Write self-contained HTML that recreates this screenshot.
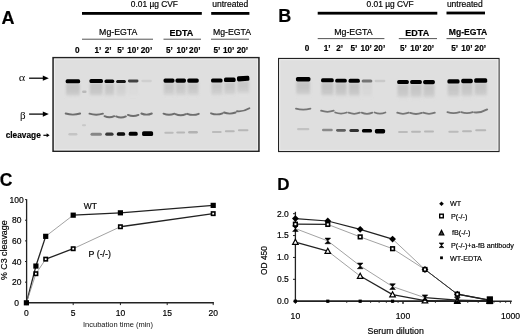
<!DOCTYPE html>
<html><head><meta charset="utf-8"><style>
html,body{margin:0;padding:0;background:#fff;width:520px;height:334px;overflow:hidden}
svg{display:block;font-family:"Liberation Sans",sans-serif;will-change:transform;filter:blur(0.3px)}
</style></head><body>
<svg width="520" height="334" viewBox="0 0 520 334" font-family="Liberation Sans">
<defs><filter id="bl" x="-20%" y="-20%" width="140%" height="140%"><feGaussianBlur stdDeviation="0.5"/></filter><filter id="bl2" x="-30%" y="-30%" width="160%" height="160%"><feGaussianBlur stdDeviation="1.2"/></filter><linearGradient id="sm" x1="0" y1="0" x2="0" y2="1"><stop offset="0" stop-color="#c8c8c8"/><stop offset="0.25" stop-color="#c2c2c2"/><stop offset="0.7" stop-color="#cacaca"/><stop offset="1" stop-color="#dfdfdf" stop-opacity="0"/></linearGradient></defs>
<text x="1.6" y="23.8" font-size="18" font-weight="bold" text-anchor="start" fill="#000" stroke="#000" stroke-width="0.18" >A</text>
<text x="130.8" y="6.7" font-size="8.4" font-weight="normal" text-anchor="start" fill="#000" stroke="#000" stroke-width="0.18" >0.01 µg CVF</text>
<text x="212.3" y="6.9" font-size="8.5" font-weight="normal" text-anchor="start" fill="#000" stroke="#000" stroke-width="0.18" >untreated</text>
<rect x="82" y="12" width="119.8" height="2.8" fill="#000" />
<rect x="211.2" y="12" width="38.2" height="2.8" fill="#000" />
<text x="99.1" y="34.6" font-size="8.75" font-weight="normal" text-anchor="start" fill="#000" stroke="#000" stroke-width="0.18" >Mg-EGTA</text>
<text x="169.4" y="35.9" font-size="9" font-weight="bold" text-anchor="start" fill="#000" stroke="#000" stroke-width="0.18" >EDTA</text>
<text x="213" y="34.6" font-size="8.7" font-weight="normal" text-anchor="start" fill="#000" stroke="#000" stroke-width="0.18" >Mg-EGTA</text>
<rect x="82" y="38.7" width="71" height="1" fill="#555" />
<rect x="163.5" y="38.7" width="37.5" height="1" fill="#555" />
<rect x="211" y="38.7" width="38" height="1" fill="#555" />
<text x="75" y="52.8" font-size="8.2" font-weight="bold" text-anchor="start" fill="#000" stroke="#000" stroke-width="0.18" >0</text>
<text x="94.5" y="52.8" font-size="8.2" font-weight="bold" text-anchor="start" fill="#000" stroke="#000" stroke-width="0.18" >1&#8217;</text>
<text x="104.8" y="52.8" font-size="8.2" font-weight="bold" text-anchor="start" fill="#000" stroke="#000" stroke-width="0.18" >2&#8217;</text>
<text x="117.3" y="52.8" font-size="8.2" font-weight="bold" text-anchor="start" fill="#000" stroke="#000" stroke-width="0.18" >5&#8217;</text>
<text x="127.3" y="52.8" font-size="8.2" font-weight="bold" text-anchor="start" fill="#000" stroke="#000" stroke-width="0.18" >10&#8217;</text>
<text x="140.8" y="52.8" font-size="8.2" font-weight="bold" text-anchor="start" fill="#000" stroke="#000" stroke-width="0.18" >20&#8217;</text>
<text x="165.9" y="52.8" font-size="8.2" font-weight="bold" text-anchor="start" fill="#000" stroke="#000" stroke-width="0.18" >5&#8217;</text>
<text x="176.4" y="52.8" font-size="8.2" font-weight="bold" text-anchor="start" fill="#000" stroke="#000" stroke-width="0.18" >10&#8217;</text>
<text x="189.1" y="52.8" font-size="8.2" font-weight="bold" text-anchor="start" fill="#000" stroke="#000" stroke-width="0.18" >20&#8217;</text>
<text x="213.5" y="52.8" font-size="8.2" font-weight="bold" text-anchor="start" fill="#000" stroke="#000" stroke-width="0.18" >5&#8217;</text>
<text x="223" y="52.8" font-size="8.2" font-weight="bold" text-anchor="start" fill="#000" stroke="#000" stroke-width="0.18" >10&#8217;</text>
<text x="236.7" y="52.8" font-size="8.2" font-weight="bold" text-anchor="start" fill="#000" stroke="#000" stroke-width="0.18" >20&#8217;</text>
<text x="278.3" y="21.8" font-size="18" font-weight="bold" text-anchor="start" fill="#000" stroke="#000" stroke-width="0.18" >B</text>
<text x="366.5" y="6.7" font-size="8.4" font-weight="normal" text-anchor="start" fill="#000" stroke="#000" stroke-width="0.18" >0.01 µg CVF</text>
<text x="446.9" y="7.2" font-size="8.5" font-weight="normal" text-anchor="start" fill="#000" stroke="#000" stroke-width="0.18" >untreated</text>
<rect x="317.7" y="11.8" width="119.6" height="2.8" fill="#000" />
<rect x="446.5" y="11.6" width="38.5" height="2.8" fill="#000" />
<text x="334.2" y="35.3" font-size="8.8" font-weight="normal" text-anchor="start" fill="#000" stroke="#000" stroke-width="0.18" >Mg-EGTA</text>
<text x="405.3" y="35.9" font-size="9" font-weight="bold" text-anchor="start" fill="#000" stroke="#000" stroke-width="0.18" >EDTA</text>
<text x="448.8" y="35.3" font-size="8.6" font-weight="bold" text-anchor="start" fill="#000" stroke="#000" stroke-width="0.18" >Mg-EGTA</text>
<rect x="317.7" y="38.1" width="66.69999999999999" height="1" fill="#555" />
<rect x="398.8" y="38.1" width="38.19999999999999" height="1" fill="#555" />
<rect x="446.5" y="38.1" width="38.5" height="1" fill="#555" />
<text x="304.8" y="51.1" font-size="8.2" font-weight="bold" text-anchor="start" fill="#000" stroke="#000" stroke-width="0.18" >0</text>
<text x="323.8" y="51.1" font-size="8.2" font-weight="bold" text-anchor="start" fill="#000" stroke="#000" stroke-width="0.18" >1&#8217;</text>
<text x="336.3" y="51.1" font-size="8.2" font-weight="bold" text-anchor="start" fill="#000" stroke="#000" stroke-width="0.18" >2&#8217;</text>
<text x="350.4" y="51.1" font-size="8.2" font-weight="bold" text-anchor="start" fill="#000" stroke="#000" stroke-width="0.18" >5&#8217;</text>
<text x="360.4" y="51.1" font-size="8.2" font-weight="bold" text-anchor="start" fill="#000" stroke="#000" stroke-width="0.18" >10&#8217;</text>
<text x="373.8" y="51.1" font-size="8.2" font-weight="bold" text-anchor="start" fill="#000" stroke="#000" stroke-width="0.18" >20&#8217;</text>
<text x="400" y="51.1" font-size="8.2" font-weight="bold" text-anchor="start" fill="#000" stroke="#000" stroke-width="0.18" >5&#8217;</text>
<text x="410.2" y="51.1" font-size="8.2" font-weight="bold" text-anchor="start" fill="#000" stroke="#000" stroke-width="0.18" >10&#8217;</text>
<text x="422.7" y="51.1" font-size="8.2" font-weight="bold" text-anchor="start" fill="#000" stroke="#000" stroke-width="0.18" >20&#8217;</text>
<text x="451.2" y="51.1" font-size="8.2" font-weight="bold" text-anchor="start" fill="#000" stroke="#000" stroke-width="0.18" >5&#8217;</text>
<text x="461.2" y="51.1" font-size="8.2" font-weight="bold" text-anchor="start" fill="#000" stroke="#000" stroke-width="0.18" >10&#8217;</text>
<text x="474.6" y="51.1" font-size="8.2" font-weight="bold" text-anchor="start" fill="#000" stroke="#000" stroke-width="0.18" >20&#8217;</text>
<rect x="53.1" y="57.7" width="205.79999999999998" height="93.49999999999999" fill="#dfdfdf" stroke="#222" stroke-width="1.6"/>
<rect x="54.40" y="59.00" width="203.20" height="90.90" fill="none" stroke="#eeeeee" stroke-width="1"/>
<g filter="url(#bl)">
<rect x="66.01" y="83.30" width="13.77" height="15.00" fill="url(#sm)" opacity="1" filter="url(#bl2)"/>
<rect x="89.79" y="83.00" width="12.82" height="15.00" fill="url(#sm)" opacity="1" filter="url(#bl2)"/>
<rect x="104.75" y="83.30" width="9.31" height="15.00" fill="url(#sm)" opacity="0.9" filter="url(#bl2)"/>
<rect x="116.34" y="83.50" width="9.31" height="15.00" fill="url(#sm)" opacity="0.5" filter="url(#bl2)"/>
<rect x="128.16" y="83.00" width="10.07" height="15.00" fill="url(#sm)" opacity="0.15" filter="url(#bl2)"/>
<rect x="163.78" y="82.60" width="10.45" height="15.00" fill="url(#sm)" opacity="0.8" filter="url(#bl2)"/>
<rect x="175.71" y="82.60" width="9.97" height="15.00" fill="url(#sm)" opacity="0.8" filter="url(#bl2)"/>
<rect x="187.54" y="82.60" width="10.92" height="15.00" fill="url(#sm)" opacity="0.8" filter="url(#bl2)"/>
<rect x="211.34" y="82.50" width="10.92" height="15.00" fill="url(#sm)" opacity="0.8" filter="url(#bl2)"/>
<rect x="224.29" y="81.80" width="11.02" height="15.00" fill="url(#sm)" opacity="0.8" filter="url(#bl2)"/>
<rect x="237.31" y="80.60" width="11.78" height="15.00" fill="url(#sm)" opacity="0.8" filter="url(#bl2)"/>
<rect x="65.65" y="79.35" width="14.50" height="3.90" rx="1.6" fill="#000000" opacity="1"/>
<path d="M65.65,113.50 Q72.90,115.70 80.15,113.50" stroke="#6e6e6e" stroke-width="1.9" fill="none" stroke-linecap="round"/>
<rect x="68.40" y="133.00" width="9.00" height="2.40" rx="1.2" fill="#c4c4c4" opacity="1"/>
<rect x="89.45" y="78.95" width="13.50" height="4.10" rx="1.6" fill="#000000" opacity="1"/>
<path d="M89.45,113.70 Q96.20,115.90 102.95,113.70" stroke="#6e6e6e" stroke-width="1.9" fill="none" stroke-linecap="round"/>
<rect x="90.46" y="132.70" width="11.47" height="3.00" rx="1.5" fill="#868686" opacity="1"/>
<rect x="104.50" y="79.50" width="9.80" height="3.60" rx="1.6" fill="#040404" opacity="1"/>
<path d="M104.50,116.20 Q109.40,118.40 114.30,116.20" stroke="#6e6e6e" stroke-width="1.9" fill="none" stroke-linecap="round"/>
<rect x="105.23" y="132.60" width="8.33" height="3.20" rx="1.6" fill="#383838" opacity="1"/>
<rect x="116.10" y="80.00" width="9.80" height="3.00" rx="1.5" fill="#121212" opacity="1"/>
<path d="M116.10,116.40 Q121.00,118.60 125.90,116.40" stroke="#6e6e6e" stroke-width="1.9" fill="none" stroke-linecap="round"/>
<rect x="116.83" y="132.20" width="8.33" height="3.60" rx="1.6" fill="#090909" opacity="1"/>
<rect x="127.90" y="79.60" width="10.60" height="2.80" rx="1.4" fill="#434343" opacity="1"/>
<path d="M127.90,114.90 Q133.20,117.10 138.50,114.90" stroke="#6e6e6e" stroke-width="1.9" fill="none" stroke-linecap="round"/>
<rect x="128.69" y="131.80" width="9.01" height="4.00" rx="1.6" fill="#000000" opacity="1"/>
<rect x="141.35" y="79.85" width="10.50" height="2.30" rx="1.15" fill="#cfcfcf" opacity="1"/>
<path d="M141.35,113.50 Q146.60,115.70 151.85,113.50" stroke="#6e6e6e" stroke-width="1.9" fill="none" stroke-linecap="round"/>
<rect x="142.10" y="131.20" width="11.00" height="4.80" rx="1.6" fill="#000000" opacity="1"/>
<rect x="163.50" y="78.55" width="11.00" height="4.10" rx="1.6" fill="#000000" opacity="1"/>
<path d="M163.50,113.70 Q169.00,115.90 174.50,113.70" stroke="#6e6e6e" stroke-width="1.9" fill="none" stroke-linecap="round"/>
<rect x="164.32" y="131.80" width="9.35" height="2.00" rx="1.0" fill="#bbbbbb" opacity="1"/>
<rect x="175.45" y="78.55" width="10.50" height="4.10" rx="1.6" fill="#000000" opacity="1"/>
<path d="M175.45,114.20 Q180.70,116.40 185.95,114.20" stroke="#6e6e6e" stroke-width="1.9" fill="none" stroke-linecap="round"/>
<rect x="176.24" y="131.40" width="8.92" height="2.20" rx="1.1" fill="#b7b7b7" opacity="1"/>
<rect x="187.25" y="78.55" width="11.50" height="4.10" rx="1.6" fill="#000000" opacity="1"/>
<path d="M187.25,113.80 Q193.00,116.00 198.75,113.80" stroke="#6e6e6e" stroke-width="1.9" fill="none" stroke-linecap="round"/>
<rect x="188.11" y="131.10" width="9.78" height="2.40" rx="1.2" fill="#b2b2b2" opacity="1"/>
<rect x="211.05" y="78.40" width="11.50" height="4.20" rx="1.6" fill="#000000" opacity="1"/>
<path d="M211.05,113.30 Q216.80,115.50 222.55,113.30" stroke="#6e6e6e" stroke-width="1.9" fill="none" stroke-linecap="round"/>
<rect x="211.91" y="131.00" width="9.78" height="2.00" rx="1.0" fill="#bbbbbb" opacity="1"/>
<rect x="224.00" y="77.60" width="11.60" height="4.40" rx="1.6" fill="#000000" opacity="1"/>
<path d="M224.00,112.50 Q229.80,114.70 235.60,112.50" stroke="#6e6e6e" stroke-width="1.9" fill="none" stroke-linecap="round"/>
<rect x="224.87" y="130.20" width="9.86" height="2.00" rx="1.0" fill="#b7b7b7" opacity="1"/>
<rect x="237.00" y="76.00" width="12.40" height="5.20" rx="1.6" fill="#000000" opacity="1" transform="rotate(-4 243.2 78.6)"/>
<path d="M237.00,111.30 Q243.20,112.00 249.40,108.30" stroke="#6e6e6e" stroke-width="1.9" fill="none" stroke-linecap="round"/>
<rect x="237.93" y="129.30" width="10.54" height="2.00" rx="1.0" fill="#b7b7b7" opacity="1"/>
<rect x="82.05" y="90.55" width="4.50" height="2.50" rx="1.25" fill="#b9b9b9" opacity="1"/>
<rect x="82.00" y="124.30" width="4.00" height="2.00" rx="1.0" fill="#c8c8c8" opacity="1"/>
</g>
<rect x="278.6" y="58.5" width="220.39999999999998" height="93.0" fill="#dfdfdf" stroke="#222" stroke-width="1.2"/>
<rect x="279.70" y="59.60" width="218.20" height="90.80" fill="none" stroke="#eeeeee" stroke-width="1"/>
<g filter="url(#bl)">
<rect x="296.31" y="81.20" width="13.77" height="16.00" fill="url(#sm)" opacity="1" filter="url(#bl2)"/>
<rect x="321.37" y="82.30" width="12.06" height="16.00" fill="url(#sm)" opacity="1" filter="url(#bl2)"/>
<rect x="335.49" y="82.60" width="11.02" height="16.00" fill="url(#sm)" opacity="1" filter="url(#bl2)"/>
<rect x="348.83" y="82.80" width="10.73" height="16.00" fill="url(#sm)" opacity="1" filter="url(#bl2)"/>
<rect x="361.92" y="82.90" width="10.16" height="16.00" fill="url(#sm)" opacity="0.3" filter="url(#bl2)"/>
<rect x="397.49" y="84.00" width="11.02" height="16.00" fill="url(#sm)" opacity="0.9" filter="url(#bl2)"/>
<rect x="410.49" y="84.00" width="11.02" height="16.00" fill="url(#sm)" opacity="0.9" filter="url(#bl2)"/>
<rect x="423.44" y="84.10" width="11.11" height="16.00" fill="url(#sm)" opacity="0.9" filter="url(#bl2)"/>
<rect x="447.70" y="83.40" width="11.59" height="16.00" fill="url(#sm)" opacity="0.9" filter="url(#bl2)"/>
<rect x="461.49" y="83.00" width="11.02" height="16.00" fill="url(#sm)" opacity="0.9" filter="url(#bl2)"/>
<rect x="474.52" y="82.50" width="12.35" height="16.00" fill="url(#sm)" opacity="0.9" filter="url(#bl2)"/>
<rect x="295.95" y="77.00" width="14.50" height="4.40" rx="1.6" fill="#000000" opacity="1"/>
<path d="M295.95,108.60 Q303.20,110.80 310.45,108.60" stroke="#767676" stroke-width="1.8" fill="none" stroke-linecap="round"/>
<rect x="297.04" y="128.10" width="12.32" height="2.20" rx="1.1" fill="#c2c2c2" opacity="1"/>
<rect x="321.05" y="78.35" width="12.70" height="3.90" rx="1.6" fill="#000000" opacity="1"/>
<path d="M321.05,110.70 Q327.40,112.90 333.75,110.70" stroke="#767676" stroke-width="1.8" fill="none" stroke-linecap="round"/>
<rect x="322.00" y="128.70" width="10.79" height="2.60" rx="1.3" fill="#8a8a8a" opacity="1"/>
<rect x="335.20" y="78.65" width="11.60" height="3.90" rx="1.6" fill="#000000" opacity="1"/>
<path d="M335.20,112.50 Q341.00,114.70 346.80,112.50" stroke="#767676" stroke-width="1.8" fill="none" stroke-linecap="round"/>
<rect x="336.07" y="128.90" width="9.86" height="2.80" rx="1.4" fill="#5e5e5e" opacity="1"/>
<rect x="348.55" y="78.85" width="11.30" height="3.90" rx="1.6" fill="#000000" opacity="1"/>
<path d="M348.55,112.70 Q354.20,114.90 359.85,112.70" stroke="#767676" stroke-width="1.8" fill="none" stroke-linecap="round"/>
<rect x="349.40" y="129.00" width="9.61" height="3.00" rx="1.5" fill="#313131" opacity="1"/>
<rect x="361.65" y="79.40" width="10.70" height="3.00" rx="1.5" fill="#747474" opacity="1"/>
<path d="M361.65,112.70 Q367.00,114.90 372.35,112.70" stroke="#767676" stroke-width="1.8" fill="none" stroke-linecap="round"/>
<rect x="361.92" y="129.00" width="10.16" height="3.60" rx="1.6" fill="#040404" opacity="1"/>
<rect x="374.60" y="79.85" width="10.80" height="2.30" rx="1.15" fill="#c9c9c9" opacity="1"/>
<path d="M374.60,112.50 Q380.00,114.70 385.40,112.50" stroke="#767676" stroke-width="1.8" fill="none" stroke-linecap="round"/>
<rect x="374.87" y="129.00" width="10.26" height="4.40" rx="1.6" fill="#000000" opacity="1"/>
<rect x="397.20" y="79.90" width="11.60" height="4.20" rx="1.6" fill="#000000" opacity="1"/>
<path d="M397.20,112.70 Q403.00,114.90 408.80,112.70" stroke="#767676" stroke-width="1.8" fill="none" stroke-linecap="round"/>
<rect x="398.07" y="131.00" width="9.86" height="2.00" rx="1.0" fill="#bbbbbb" opacity="1"/>
<rect x="410.20" y="79.90" width="11.60" height="4.20" rx="1.6" fill="#000000" opacity="1"/>
<path d="M410.20,112.90 Q416.00,115.10 421.80,112.90" stroke="#767676" stroke-width="1.8" fill="none" stroke-linecap="round"/>
<rect x="411.07" y="130.80" width="9.86" height="2.00" rx="1.0" fill="#b7b7b7" opacity="1"/>
<rect x="423.15" y="80.00" width="11.70" height="4.20" rx="1.6" fill="#000000" opacity="1"/>
<path d="M423.15,112.70 Q429.00,114.90 434.85,112.70" stroke="#767676" stroke-width="1.8" fill="none" stroke-linecap="round"/>
<rect x="424.03" y="130.60" width="9.94" height="2.00" rx="1.0" fill="#b7b7b7" opacity="1"/>
<rect x="447.40" y="79.30" width="12.20" height="4.20" rx="1.6" fill="#000000" opacity="1"/>
<path d="M447.40,112.10 Q453.50,114.30 459.60,112.10" stroke="#767676" stroke-width="1.8" fill="none" stroke-linecap="round"/>
<rect x="448.31" y="130.80" width="10.37" height="2.00" rx="1.0" fill="#bbbbbb" opacity="1"/>
<rect x="461.20" y="78.85" width="11.60" height="4.30" rx="1.6" fill="#000000" opacity="1"/>
<path d="M461.20,112.10 Q467.00,114.30 472.80,112.10" stroke="#767676" stroke-width="1.8" fill="none" stroke-linecap="round"/>
<rect x="462.07" y="130.30" width="9.86" height="2.00" rx="1.0" fill="#b7b7b7" opacity="1"/>
<rect x="474.20" y="78.20" width="13.00" height="4.60" rx="1.6" fill="#000000" opacity="1"/>
<path d="M474.20,112.40 Q480.70,113.10 487.20,109.40" stroke="#767676" stroke-width="1.8" fill="none" stroke-linecap="round"/>
<rect x="475.18" y="129.30" width="11.05" height="2.00" rx="1.0" fill="#b7b7b7" opacity="1"/>
</g>
<text transform="translate(18.7,80.6) scale(1.22,0.95)" x="0" y="0" font-family="Liberation Serif" font-size="10.2" fill="#111">α</text>
<text x="20" y="118.6" font-family="Liberation Serif" font-size="11">β</text>
<line x1="29.1" y1="78.2" x2="43.3" y2="78.2" stroke="#000" stroke-width="1.25"/>
<path d="M48.8,78.2 L42.8,75.60000000000001 L42.8,80.8 Z" fill="#000"/>
<line x1="29.1" y1="114.1" x2="43.3" y2="114.1" stroke="#000" stroke-width="1.25"/>
<path d="M48.8,114.1 L42.8,111.5 L42.8,116.69999999999999 Z" fill="#000"/>
<text x="5.7" y="138" font-size="8.3" font-weight="bold" text-anchor="start" fill="#000" stroke="#000" stroke-width="0.18" >cleavage</text>
<line x1="43.4" y1="135.3" x2="47.1" y2="135.3" stroke="#000" stroke-width="1.2"/>
<path d="M49.6,135.3 L46.6,133.3 L46.6,137.3 Z" fill="#000"/>
<text x="-0.2" y="185.5" font-size="17.5" font-weight="bold" text-anchor="start" fill="#000" stroke="#000" stroke-width="0.18" >C</text>
<line x1="26.6" y1="199.2" x2="26.6" y2="302.8" stroke="#222" stroke-width="1.3" />
<line x1="26.6" y1="302.8" x2="213.9" y2="302.8" stroke="#222" stroke-width="1.4" />
<line x1="25" y1="302.8" x2="26.6" y2="302.8" stroke="#222" stroke-width="1" />
<text x="16.7" y="305.8" font-size="8.5" font-weight="normal" text-anchor="middle" fill="#000" stroke="#000" stroke-width="0.18" >0</text>
<line x1="25" y1="282.16" x2="26.6" y2="282.16" stroke="#222" stroke-width="1" />
<text x="16.7" y="285.16" font-size="8.5" font-weight="normal" text-anchor="middle" fill="#000" stroke="#000" stroke-width="0.18" >20</text>
<line x1="25" y1="261.52" x2="26.6" y2="261.52" stroke="#222" stroke-width="1" />
<text x="16.7" y="264.52" font-size="8.5" font-weight="normal" text-anchor="middle" fill="#000" stroke="#000" stroke-width="0.18" >40</text>
<line x1="25" y1="240.88" x2="26.6" y2="240.88" stroke="#222" stroke-width="1" />
<text x="16.7" y="243.88" font-size="8.5" font-weight="normal" text-anchor="middle" fill="#000" stroke="#000" stroke-width="0.18" >60</text>
<line x1="25" y1="220.24" x2="26.6" y2="220.24" stroke="#222" stroke-width="1" />
<text x="16.7" y="223.24" font-size="8.5" font-weight="normal" text-anchor="middle" fill="#000" stroke="#000" stroke-width="0.18" >80</text>
<line x1="25" y1="199.59999999999997" x2="26.6" y2="199.59999999999997" stroke="#222" stroke-width="1" />
<text x="16.7" y="202.59999999999997" font-size="8.5" font-weight="normal" text-anchor="middle" fill="#000" stroke="#000" stroke-width="0.18" >100</text>
<line x1="26.4" y1="302.8" x2="26.4" y2="305.1" stroke="#222" stroke-width="1" />
<text x="26.4" y="316.2" font-size="8.5" font-weight="normal" text-anchor="middle" fill="#000" stroke="#000" stroke-width="0.18" >0</text>
<line x1="73.2" y1="302.8" x2="73.2" y2="305.1" stroke="#222" stroke-width="1" />
<text x="73.2" y="316.2" font-size="8.5" font-weight="normal" text-anchor="middle" fill="#000" stroke="#000" stroke-width="0.18" >5</text>
<line x1="120.4" y1="302.8" x2="120.4" y2="305.1" stroke="#222" stroke-width="1" />
<text x="120.4" y="316.2" font-size="8.5" font-weight="normal" text-anchor="middle" fill="#000" stroke="#000" stroke-width="0.18" >10</text>
<line x1="167.2" y1="302.8" x2="167.2" y2="305.1" stroke="#222" stroke-width="1" />
<text x="167.2" y="316.2" font-size="8.5" font-weight="normal" text-anchor="middle" fill="#000" stroke="#000" stroke-width="0.18" >15</text>
<line x1="213.2" y1="302.8" x2="213.2" y2="305.1" stroke="#222" stroke-width="1" />
<text x="213.2" y="316.2" font-size="8.5" font-weight="normal" text-anchor="middle" fill="#000" stroke="#000" stroke-width="0.18" >20</text>
<text x="118" y="327.4" font-size="7.5" text-anchor="middle" fill="#111">Incubation time (min)</text>
<text transform="translate(7.3,250.2) rotate(-90)" x="0" y="0" font-size="8.9" text-anchor="middle" fill="#000" stroke="#000" stroke-width="0.18">% C3 cleavage</text>
<line x1="26.40" y1="302.80" x2="35.90" y2="266.06" stroke="#222" stroke-width="1.3" />
<line x1="35.90" y1="266.06" x2="45.70" y2="236.34" stroke="#222" stroke-width="1.3" />
<line x1="45.70" y1="236.34" x2="73.20" y2="215.18" stroke="#8a8a8a" stroke-width="0.8" />
<line x1="73.20" y1="215.18" x2="120.40" y2="212.81" stroke="#222" stroke-width="1.3" />
<line x1="120.40" y1="212.81" x2="213.20" y2="205.38" stroke="#222" stroke-width="1.3" />
<line x1="26.40" y1="302.80" x2="35.90" y2="273.70" stroke="#8a8a8a" stroke-width="0.8" />
<line x1="35.90" y1="273.70" x2="45.70" y2="259.15" stroke="#8a8a8a" stroke-width="0.8" />
<line x1="45.70" y1="259.15" x2="73.20" y2="248.72" stroke="#222" stroke-width="1.3" />
<line x1="73.20" y1="248.72" x2="120.40" y2="226.74" stroke="#8a8a8a" stroke-width="0.8" />
<line x1="120.40" y1="226.74" x2="213.20" y2="213.64" stroke="#222" stroke-width="1.3" />
<rect x="23.80" y="300.20" width="5.2" height="5.2" fill="#000" />
<rect x="33.30" y="263.46" width="5.2" height="5.2" fill="#000" />
<rect x="43.10" y="233.74" width="5.2" height="5.2" fill="#000" />
<rect x="70.60" y="212.58" width="5.2" height="5.2" fill="#000" />
<rect x="117.80" y="210.21" width="5.2" height="5.2" fill="#000" />
<rect x="210.60" y="202.78" width="5.2" height="5.2" fill="#000" />
<rect x="34.20" y="272.00" width="3.4" height="3.4" fill="#fff" stroke="#000" stroke-width="1.6"/>
<rect x="44.00" y="257.45" width="3.4" height="3.4" fill="#fff" stroke="#000" stroke-width="1.6"/>
<rect x="71.50" y="247.02" width="3.4" height="3.4" fill="#fff" stroke="#000" stroke-width="1.6"/>
<rect x="118.70" y="225.04" width="3.4" height="3.4" fill="#fff" stroke="#000" stroke-width="1.6"/>
<rect x="211.50" y="211.94" width="3.4" height="3.4" fill="#fff" stroke="#000" stroke-width="1.6"/>
<text x="83.8" y="208.8" font-size="8.5" font-weight="normal" text-anchor="start" fill="#000" stroke="#000" stroke-width="0.18" >WT</text>
<text x="88.6" y="257" font-size="8.8" font-weight="normal" text-anchor="start" fill="#000" stroke="#000" stroke-width="0.18" >P (-/-)</text>
<text x="277.3" y="190.1" font-size="17" font-weight="bold" text-anchor="start" fill="#000" stroke="#000" stroke-width="0.18" >D</text>
<line x1="295.4" y1="211.8" x2="295.4" y2="301.2" stroke="#222" stroke-width="1.3" />
<line x1="295.4" y1="301.2" x2="511.8" y2="301.2" stroke="#222" stroke-width="1.4" />
<line x1="293" y1="301.2" x2="295.4" y2="301.2" stroke="#222" stroke-width="1" />
<text x="288.8" y="304.0" font-size="8.5" font-weight="normal" text-anchor="end" fill="#000" stroke="#000" stroke-width="0.18" >0.0</text>
<line x1="293" y1="279.325" x2="295.4" y2="279.325" stroke="#222" stroke-width="1" />
<text x="288.8" y="282.125" font-size="8.5" font-weight="normal" text-anchor="end" fill="#000" stroke="#000" stroke-width="0.18" >0.5</text>
<line x1="293" y1="257.45" x2="295.4" y2="257.45" stroke="#222" stroke-width="1" />
<text x="288.8" y="260.25" font-size="8.5" font-weight="normal" text-anchor="end" fill="#000" stroke="#000" stroke-width="0.18" >1.0</text>
<line x1="293" y1="235.575" x2="295.4" y2="235.575" stroke="#222" stroke-width="1" />
<text x="288.8" y="238.375" font-size="8.5" font-weight="normal" text-anchor="end" fill="#000" stroke="#000" stroke-width="0.18" >1.5</text>
<line x1="293" y1="213.7" x2="295.4" y2="213.7" stroke="#222" stroke-width="1" />
<text x="288.8" y="216.5" font-size="8.5" font-weight="normal" text-anchor="end" fill="#000" stroke="#000" stroke-width="0.18" >2.0</text>
<line x1="295.40" y1="301.2" x2="295.40" y2="303.8" stroke="#222" stroke-width="1" />
<line x1="327.79" y1="301.2" x2="327.79" y2="302.8" stroke="#222" stroke-width="1" />
<line x1="346.74" y1="301.2" x2="346.74" y2="302.8" stroke="#222" stroke-width="1" />
<line x1="360.18" y1="301.2" x2="360.18" y2="302.8" stroke="#222" stroke-width="1" />
<line x1="370.61" y1="301.2" x2="370.61" y2="302.8" stroke="#222" stroke-width="1" />
<line x1="379.13" y1="301.2" x2="379.13" y2="302.8" stroke="#222" stroke-width="1" />
<line x1="386.33" y1="301.2" x2="386.33" y2="302.8" stroke="#222" stroke-width="1" />
<line x1="392.57" y1="301.2" x2="392.57" y2="302.8" stroke="#222" stroke-width="1" />
<line x1="398.08" y1="301.2" x2="398.08" y2="302.8" stroke="#222" stroke-width="1" />
<line x1="403.00" y1="301.2" x2="403.00" y2="303.8" stroke="#222" stroke-width="1" />
<line x1="403.00" y1="301.2" x2="403.00" y2="303.8" stroke="#222" stroke-width="1" />
<line x1="435.39" y1="301.2" x2="435.39" y2="302.8" stroke="#222" stroke-width="1" />
<line x1="454.34" y1="301.2" x2="454.34" y2="302.8" stroke="#222" stroke-width="1" />
<line x1="467.78" y1="301.2" x2="467.78" y2="302.8" stroke="#222" stroke-width="1" />
<line x1="478.21" y1="301.2" x2="478.21" y2="302.8" stroke="#222" stroke-width="1" />
<line x1="486.73" y1="301.2" x2="486.73" y2="302.8" stroke="#222" stroke-width="1" />
<line x1="493.93" y1="301.2" x2="493.93" y2="302.8" stroke="#222" stroke-width="1" />
<line x1="500.17" y1="301.2" x2="500.17" y2="302.8" stroke="#222" stroke-width="1" />
<line x1="505.68" y1="301.2" x2="505.68" y2="302.8" stroke="#222" stroke-width="1" />
<line x1="510.60" y1="301.2" x2="510.60" y2="303.8" stroke="#222" stroke-width="1" />
<text x="295.40" y="318.9" font-size="8.6" font-weight="normal" text-anchor="middle" fill="#000" stroke="#000" stroke-width="0.18" >10</text>
<text x="403.00" y="318.9" font-size="8.6" font-weight="normal" text-anchor="middle" fill="#000" stroke="#000" stroke-width="0.18" >100</text>
<text x="510.60" y="318.9" font-size="8.6" font-weight="normal" text-anchor="middle" fill="#000" stroke="#000" stroke-width="0.18" >1000</text>
<text x="367.6" y="333.6" font-size="8.8" font-weight="normal" text-anchor="start" fill="#000" stroke="#000" stroke-width="0.18" >Serum dilution</text>
<text transform="translate(267.4,260.5) rotate(-90)" x="0" y="0" font-size="8.4" text-anchor="middle" fill="#000" stroke="#000" stroke-width="0.18">OD 450</text>
<line x1="295.40" y1="301.20" x2="327.79" y2="301.20" stroke="#222" stroke-width="1.2" />
<line x1="327.79" y1="301.20" x2="360.18" y2="301.20" stroke="#222" stroke-width="1.2" />
<line x1="360.18" y1="301.20" x2="392.57" y2="301.20" stroke="#222" stroke-width="1.2" />
<line x1="392.57" y1="301.20" x2="424.96" y2="301.20" stroke="#222" stroke-width="1.2" />
<line x1="424.96" y1="301.20" x2="457.35" y2="301.20" stroke="#222" stroke-width="1.2" />
<line x1="457.35" y1="301.20" x2="489.74" y2="301.20" stroke="#222" stroke-width="1.2" />
<line x1="295.40" y1="242.14" x2="327.79" y2="251.11" stroke="#222" stroke-width="1.2" />
<line x1="327.79" y1="251.11" x2="360.18" y2="276.09" stroke="#8a8a8a" stroke-width="0.8" />
<line x1="360.18" y1="276.09" x2="392.57" y2="294.64" stroke="#222" stroke-width="1.2" />
<line x1="392.57" y1="294.64" x2="424.96" y2="300.59" stroke="#222" stroke-width="1.2" />
<line x1="424.96" y1="300.59" x2="457.35" y2="300.98" stroke="#222" stroke-width="1.2" />
<line x1="457.35" y1="300.98" x2="489.74" y2="300.98" stroke="#222" stroke-width="1.2" />
<line x1="295.40" y1="228.57" x2="327.79" y2="240.91" stroke="#8a8a8a" stroke-width="0.8" />
<line x1="327.79" y1="240.91" x2="360.18" y2="265.89" stroke="#8a8a8a" stroke-width="0.8" />
<line x1="360.18" y1="265.89" x2="392.57" y2="286.59" stroke="#8a8a8a" stroke-width="0.8" />
<line x1="392.57" y1="286.59" x2="424.96" y2="297.70" stroke="#8a8a8a" stroke-width="0.8" />
<line x1="424.96" y1="297.70" x2="457.35" y2="300.11" stroke="#222" stroke-width="1.2" />
<line x1="457.35" y1="300.11" x2="489.74" y2="300.76" stroke="#222" stroke-width="1.2" />
<line x1="295.40" y1="224.20" x2="327.79" y2="224.42" stroke="#222" stroke-width="1.2" />
<line x1="327.79" y1="224.42" x2="360.18" y2="236.89" stroke="#8a8a8a" stroke-width="0.8" />
<line x1="360.18" y1="236.89" x2="392.57" y2="248.70" stroke="#8a8a8a" stroke-width="0.8" />
<line x1="392.57" y1="248.70" x2="424.96" y2="269.48" stroke="#8a8a8a" stroke-width="0.8" />
<line x1="424.96" y1="269.48" x2="457.35" y2="294.20" stroke="#333" stroke-width="0.9" />
<line x1="457.35" y1="294.20" x2="489.74" y2="300.11" stroke="#222" stroke-width="1.2" />
<line x1="295.40" y1="218.60" x2="327.79" y2="221.01" stroke="#222" stroke-width="1.2" />
<line x1="327.79" y1="221.01" x2="360.18" y2="229.32" stroke="#222" stroke-width="1.2" />
<line x1="360.18" y1="229.32" x2="392.57" y2="239.07" stroke="#222" stroke-width="1.2" />
<line x1="392.57" y1="239.07" x2="424.96" y2="269.48" stroke="#8a8a8a" stroke-width="0.8" />
<line x1="424.96" y1="269.48" x2="457.35" y2="294.20" stroke="#333" stroke-width="0.9" />
<line x1="457.35" y1="294.20" x2="489.74" y2="300.32" stroke="#222" stroke-width="1.2" />
<rect x="293.80" y="299.60" width="3.2" height="3.2" fill="#000" />
<rect x="326.19" y="299.60" width="3.2" height="3.2" fill="#000" />
<rect x="358.58" y="299.60" width="3.2" height="3.2" fill="#000" />
<rect x="390.97" y="299.60" width="3.2" height="3.2" fill="#000" />
<rect x="423.36" y="299.60" width="3.2" height="3.2" fill="#000" />
<rect x="455.75" y="299.60" width="3.2" height="3.2" fill="#000" />
<rect x="488.14" y="299.60" width="3.2" height="3.2" fill="#000" />
<path d="M295.40,239.24 L298.20,244.44 L292.60,244.44 Z" fill="#fff" stroke="#000" stroke-width="1.2"/>
<path d="M327.79,248.21 L330.59,253.41 L324.99,253.41 Z" fill="#fff" stroke="#000" stroke-width="1.2"/>
<path d="M360.18,273.19 L362.98,278.39 L357.38,278.39 Z" fill="#fff" stroke="#000" stroke-width="1.2"/>
<path d="M392.57,291.74 L395.37,296.94 L389.77,296.94 Z" fill="#fff" stroke="#000" stroke-width="1.2"/>
<path d="M424.96,297.69 L427.76,302.89 L422.16,302.89 Z" fill="#fff" stroke="#000" stroke-width="1.2"/>
<path d="M457.35,298.08 L460.15,303.28 L454.55,303.28 Z" fill="#fff" stroke="#000" stroke-width="1.2"/>
<path d="M489.74,298.08 L492.54,303.28 L486.94,303.28 Z" fill="#fff" stroke="#000" stroke-width="1.2"/>
<path d="M292.60,225.77 L298.20,225.77 L292.60,231.38 L298.20,231.38 Z" fill="#000" stroke="#000" stroke-width="0.6"/>
<path d="M324.99,238.11 L330.59,238.11 L324.99,243.71 L330.59,243.71 Z" fill="#000" stroke="#000" stroke-width="0.6"/>
<path d="M357.38,263.09 L362.98,263.09 L357.38,268.69 L362.98,268.69 Z" fill="#000" stroke="#000" stroke-width="0.6"/>
<path d="M389.77,283.79 L395.37,283.79 L389.77,289.39 L395.37,289.39 Z" fill="#000" stroke="#000" stroke-width="0.6"/>
<path d="M422.16,294.90 L427.76,294.90 L422.16,300.50 L427.76,300.50 Z" fill="#000" stroke="#000" stroke-width="0.6"/>
<path d="M454.55,297.31 L460.15,297.31 L454.55,302.91 L460.15,302.91 Z" fill="#000" stroke="#000" stroke-width="0.6"/>
<path d="M486.94,297.96 L492.54,297.96 L486.94,303.56 L492.54,303.56 Z" fill="#000" stroke="#000" stroke-width="0.6"/>
<path d="M295.40,215.20 L298.80,218.60 L295.40,222.00 L292.00,218.60 Z" fill="#000"/>
<path d="M327.79,217.61 L331.19,221.01 L327.79,224.41 L324.39,221.01 Z" fill="#000"/>
<path d="M360.18,225.92 L363.58,229.32 L360.18,232.72 L356.78,229.32 Z" fill="#000"/>
<path d="M392.57,235.67 L395.97,239.07 L392.57,242.47 L389.17,239.07 Z" fill="#000"/>
<path d="M424.96,266.08 L428.36,269.48 L424.96,272.88 L421.56,269.48 Z" fill="#000"/>
<path d="M457.35,290.80 L460.75,294.20 L457.35,297.60 L453.95,294.20 Z" fill="#000"/>
<path d="M489.74,296.93 L493.14,300.32 L489.74,303.72 L486.34,300.32 Z" fill="#000"/>
<rect x="293.60" y="222.40" width="3.6" height="3.6" fill="#fff" stroke="#000" stroke-width="1.6"/>
<rect x="325.99" y="222.62" width="3.6" height="3.6" fill="#fff" stroke="#000" stroke-width="1.6"/>
<rect x="358.38" y="235.09" width="3.6" height="3.6" fill="#fff" stroke="#000" stroke-width="1.6"/>
<rect x="390.77" y="246.90" width="3.6" height="3.6" fill="#fff" stroke="#000" stroke-width="1.6"/>
<rect x="423.16" y="267.68" width="3.6" height="3.6" fill="#fff" stroke="#000" stroke-width="1.6"/>
<rect x="455.55" y="292.40" width="3.6" height="3.6" fill="#fff" stroke="#000" stroke-width="1.6"/>
<rect x="486.74" y="296.31" width="6.2" height="7.8" fill="#000" />
<path d="M441.50,201.50 L443.80,203.80 L441.50,206.10 L439.20,203.80 Z" fill="#000"/>
<text x="449.9" y="206.3" font-size="7.2" font-weight="normal" text-anchor="start" fill="#000" stroke="#000" stroke-width="0.18" >WT</text>
<rect x="439.70" y="214.20" width="3.6" height="3.6" fill="#fff" stroke="#000" stroke-width="1.4"/>
<text x="451" y="218.7" font-size="7.2" font-weight="normal" text-anchor="start" fill="#000" stroke="#000" stroke-width="0.18" >P(-/-)</text>
<path d="M441.50,230.40 L443.80,234.80 L439.20,234.80 Z" fill="#444" stroke="#000" stroke-width="1.2"/>
<text x="452" y="235.3" font-size="7.2" font-weight="normal" text-anchor="start" fill="#000" stroke="#000" stroke-width="0.18" >fB(-/-)</text>
<path d="M439.20,243.00 L443.80,243.00 L439.20,247.60 L443.80,247.60 Z" fill="#000" stroke="#000" stroke-width="0.7"/>
<text x="451" y="247.8" font-size="7.2" font-weight="normal" text-anchor="start" fill="#000" stroke="#000" stroke-width="0.18" >P(-/-)+a-fB antibody</text>
<rect x="440.1" y="256.40000000000003" width="2.8" height="2.8" fill="#000"/>
<text x="450" y="260.6" font-size="7.2" font-weight="normal" text-anchor="start" fill="#000" stroke="#000" stroke-width="0.18" >WT-EDTA</text>
</svg>
</body></html>
